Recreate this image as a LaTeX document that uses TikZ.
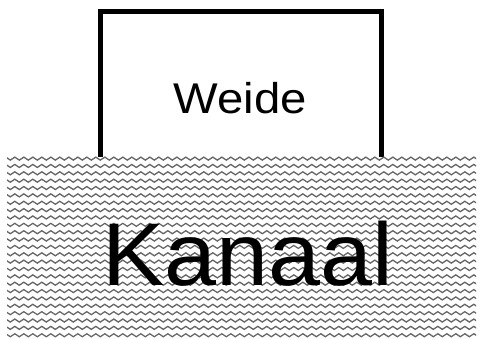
\documentclass[tikz,border=0pt]{standalone}
\usepackage{fontspec}
\setmainfont{Liberation Sans}
\usetikzlibrary{decorations.pathmorphing}
\tikzset{
  wall/.style={line width=5pt, line join=miter, black},
  wave/.style={decorate, decoration={snake, segment length=9pt, amplitude=1.5pt}, line width=1.3pt, black!60},
  label/.style={anchor=base, inner sep=0pt}
}
\begin{document}
\begin{tikzpicture}[x=1pt,y=-1pt]
\useasboundingbox (0,0) rectangle (481,339);
\fill[white] (0,0) rectangle (481,339);
% Weide enclosure
\draw[wall] (100,170) -- (100,11.5) -- (381.5,11.5) -- (381.5,170);
% Kanaal area
\fill[white] (7,157) rectangle (476,337);
\begin{scope}
\clip (7,157) rectangle (476,337);
\foreach \k in {0,...,24}{
  \draw[wave] (3,{158.6+7.36*\k}) -- (482,{158.6+7.36*\k});
}
\end{scope}
\node[label] (weide) at (240.5,114) {\scalebox{1.1}[1]{\fontsize{43}{43}\selectfont Weide}};
\node[label] (kanaal) at (247.5,285) {\scalebox{1.05}[1]{\fontsize{89}{89}\selectfont Kanaal}};
\end{tikzpicture}
\end{document}
